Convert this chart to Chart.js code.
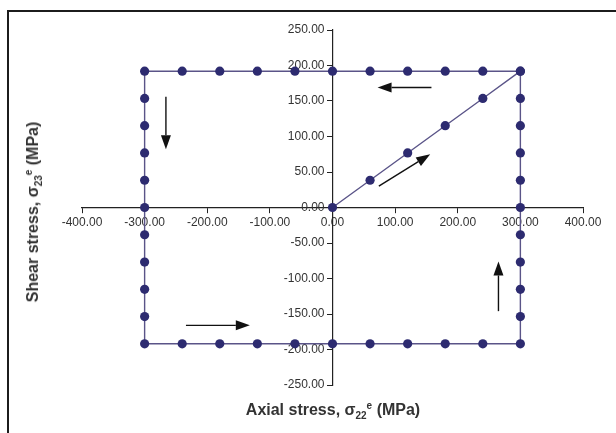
<!DOCTYPE html>
<html>
<head>
<meta charset="utf-8">
<script src="https://cdn.jsdelivr.net/npm/chart.js@4/dist/chart.umd.min.js"></script>
<style>
  html, body { margin: 0; padding: 0; background: #fff; }
  #wrap { position: relative; width: 616px; height: 433px; overflow: hidden; }
  #frame { position: absolute; left: 7px; top: 10px; width: 700px; height: 500px;
           border-left: 2.5px solid #1c1c1c; border-top: 2.5px solid #1c1c1c; }
  #plot { position: absolute; left: 0; top: 0; }
  .title { position: absolute; font-family: "Liberation Sans", Arial, sans-serif;
           font-weight: bold; font-size: 16px; color: #333; white-space: nowrap; }
  .title sub, .title sup { font-size: 10px; line-height: 0; }
  #xTitle { left: 333px; top: 410px; transform: translate(-50%, -50%); }
  #yTitle { left: 33px; top: 212px; transform: translate(-50%, -50%) rotate(-90deg); }
</style>
</head>
<body>
<div id="wrap">
  <div id="frame"></div>
  <canvas id="plot" width="616" height="433"></canvas>
  <div class="title" id="xTitle">Axial stress, σ<sub>22</sub><sup>e</sup> (MPa)</div>
  <div class="title" id="yTitle">Shear stress, σ<sub>23</sub><sup>e</sup> (MPa)</div>
</div>
<script>
// loading path: diagonal, then top, left side, bottom, right side
var axialStress = [0, 60, 120, 180, 240, 300,
    240, 180, 120, 60, 0, -60, -120, -180, -240, -300,
    -300, -300, -300, -300, -300, -300, -300, -300, -300, -300,
    -240, -180, -120, -60, 0, 60, 120, 180, 240, 300,
    300, 300, 300, 300, 300, 300, 300, 300, 300, 300];
var shearStress = [0, 38.4, 76.8, 115.2, 153.6, 192,
    192, 192, 192, 192, 192, 192, 192, 192, 192, 192,
    153.6, 115.2, 76.8, 38.4, 0, -38.4, -76.8, -115.2, -153.6, -192,
    -192, -192, -192, -192, -192, -192, -192, -192, -192, -192,
    -153.6, -115.2, -76.8, -38.4, 0, 38.4, 76.8, 115.2, 153.6, 192];

var xTicks = [-400, -300, -200, -100, 0, 100, 200, 300, 400];
var yTicks = [-250, -200, -150, -100, -50, 0, 50, 100, 150, 200, 250];

// direction arrows, [x0, y0, x1, y1] in MPa, head at the second point
var loadArrows = [
    [158, 169, 72, 169],
    [-266, 156, -266, 82],
    [74, 30, 156, 75],
    [-234, -166, -132, -166],
    [265, -146, 265, -76]
];

var points = axialStress.map(function(x, i) {
    return { x: x, y: shearStress[i] };
});

// y labels of an axis placed at x=0 get drawn flush on the line; push them left of the ticks
var labelShift = {
    id: 'labelShift',
    beforeDraw: function(chart) {
        var items = chart.scales.y.getLabelItems();
        if (items._shifted) return;
        items.forEach(function(it) { it.options.translation[0] -= 8; });
        items._shifted = true;
    }
};

var arrowPlugin = {
    id: 'arrows',
    afterDatasetsDraw: function(chart) {
        var ctx = chart.ctx, sx = chart.scales.x, sy = chart.scales.y;
        ctx.save();
        ctx.strokeStyle = '#111';
        ctx.fillStyle = '#111';
        ctx.lineWidth = 1.4;
        loadArrows.forEach(function(a) {
            var x0 = sx.getPixelForValue(a[0]), y0 = sy.getPixelForValue(a[1]);
            var x1 = sx.getPixelForValue(a[2]), y1 = sy.getPixelForValue(a[3]);
            var ang = Math.atan2(y1 - y0, x1 - x0);
            var len = 14, half = 5;
            var bx = x1 - len * Math.cos(ang), by = y1 - len * Math.sin(ang);
            ctx.beginPath();
            ctx.moveTo(x0, y0);
            ctx.lineTo(bx, by);
            ctx.stroke();
            ctx.beginPath();
            ctx.moveTo(x1, y1);
            ctx.lineTo(bx + half * Math.sin(ang), by - half * Math.cos(ang));
            ctx.lineTo(bx - half * Math.sin(ang), by + half * Math.cos(ang));
            ctx.closePath();
            ctx.fill();
        });
        ctx.restore();
    }
};

var tickFont = { family: '"Liberation Sans", Arial, sans-serif', size: 12 };

new Chart(document.getElementById('plot'), {
    type: 'scatter',
    data: {
        datasets: [{
            data: points,
            showLine: true,
            borderColor: '#5a5488',
            borderWidth: 1.4,
            pointRadius: 4.6,
            pointBackgroundColor: '#2d2b70',
            pointBorderColor: '#2d2b70',
            pointBorderWidth: 0
        }]
    },
    options: {
        responsive: false,
        devicePixelRatio: 1,
        animation: false,
        layout: { padding: { left: 82, right: 33, top: 30, bottom: 48 } },
        plugins: { legend: { display: false }, tooltip: { enabled: false } },
        scales: {
            x: {
                type: 'linear',
                position: { y: 0 },
                min: xTicks[0],
                max: xTicks[xTicks.length - 1],
                afterBuildTicks: function(axis) {
                    axis.ticks = xTicks.map(function(v) { return { value: v }; });
                },
                ticks: {
                    font: tickFont, color: '#333', padding: 3, maxRotation: 0,
                    callback: function(v) { return v.toFixed(2); }
                },
                grid: { drawOnChartArea: false, drawTicks: true, tickLength: 5, color: '#222' },
                border: { display: true, color: '#222', width: 1.2 }
            },
            y: {
                type: 'linear',
                position: { x: 0 },
                min: yTicks[0],
                max: yTicks[yTicks.length - 1],
                afterBuildTicks: function(axis) {
                    axis.ticks = yTicks.map(function(v) { return { value: v }; });
                },
                ticks: {
                    font: tickFont, color: '#333', padding: 3,
                    callback: function(v) { return v.toFixed(2); }
                },
                grid: { drawOnChartArea: false, drawTicks: true, tickLength: 5, color: '#222' },
                border: { display: true, color: '#222', width: 1.2 }
            }
        }
    },
    plugins: [labelShift, arrowPlugin]
});
</script>
</body>
</html>
